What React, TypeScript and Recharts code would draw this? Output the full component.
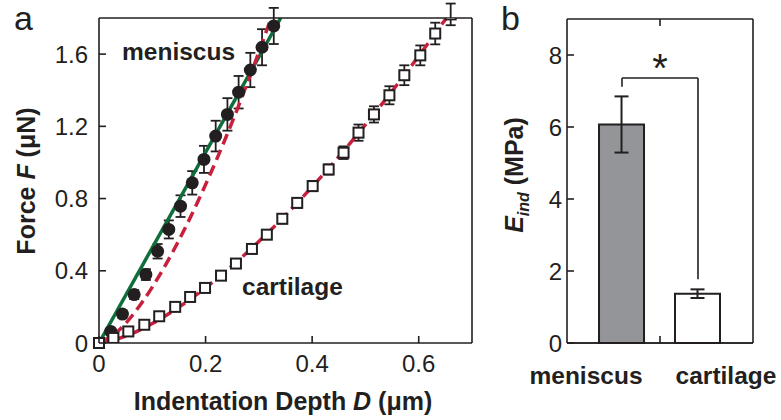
import React from 'react';
import {
  ComposedChart,
  Scatter,
  Line,
  Bar,
  Cell,
  XAxis,
  YAxis,
  ErrorBar,
  ReferenceLine,
} from 'recharts';

const FONT = '"Liberation Sans", Arial, Helvetica, sans-serif';
const INK = '#231f20';
const GREEN = '#0f6e3c';
const RED = '#c8203c';

// ---------- Panel a: force vs indentation depth ----------
const meniscusDepth = [0.022, 0.044, 0.066, 0.088, 0.110, 0.131, 0.153, 0.175, 0.197, 0.219, 0.241, 0.262, 0.284, 0.306, 0.328];
const meniscusForce = [0.064, 0.160, 0.268, 0.379, 0.508, 0.629, 0.758, 0.887, 1.017, 1.146, 1.266, 1.389, 1.512, 1.638, 1.756];
const meniscusForceErr = [0.015, 0.02, 0.025, 0.03, 0.04, 0.05, 0.06, 0.065, 0.075, 0.085, 0.09, 0.09, 0.095, 0.1, 0.1];

const cartilageDepth = [0.027, 0.055, 0.085, 0.113, 0.143, 0.171, 0.199, 0.229, 0.257, 0.287, 0.315, 0.344, 0.372, 0.401, 0.431, 0.459, 0.487, 0.516, 0.545, 0.573, 0.603, 0.631, 0.660];
const cartilageForce = [0.028, 0.064, 0.101, 0.148, 0.200, 0.255, 0.305, 0.373, 0.440, 0.521, 0.600, 0.688, 0.776, 0.869, 0.961, 1.054, 1.165, 1.266, 1.372, 1.483, 1.593, 1.714, 1.820];
const cartilageForceErr = [0.005, 0.008, 0.01, 0.012, 0.014, 0.016, 0.018, 0.02, 0.022, 0.024, 0.025, 0.026, 0.027, 0.028, 0.028, 0.035, 0.045, 0.045, 0.05, 0.055, 0.055, 0.06, 0.06];

const originDepth = [0];
const originForce = [0];

const linearFitDepth = [0, 0.341];
const linearFitForce = [0, 1.8];

const meniscusHertzDepth = [0, 0.04, 0.08, 0.12, 0.16, 0.20, 0.24, 0.28, 0.323];
const meniscusHertzForce = [0, 0.078, 0.222, 0.407, 0.627, 0.877, 1.152, 1.452, 1.8];

const cartilageHertzDepth = [0, 0.05, 0.10, 0.15, 0.20, 0.25, 0.30, 0.35, 0.40, 0.45, 0.50, 0.55, 0.60, 0.652];
const cartilageHertzForce = [0, 0.038, 0.108, 0.199, 0.306, 0.428, 0.562, 0.708, 0.865, 1.032, 1.209, 1.395, 1.589, 1.8];

const depthTicks = [0, 0.2, 0.4, 0.6];
const forceTicks = [0, 0.4, 0.8, 1.2, 1.6];
const depthDomain = [0, 0.7];
const forceDomain = [0, 1.8];

// ---------- Panel b: indentation modulus ----------
const tissues = ['meniscus', 'cartilage'];
const tissuePos = [1, 2];
const modulusMean = [6.07, 1.37];
const modulusErr = [0.78, 0.12];
const modulusTicks = [0, 2, 4, 6, 8];
const modulusDomain = [0, 9];
const tissueDomain = [0.276, 2.724];
const barFills = ['#939598', '#ffffff'];
const bracketTop = 7.36;
const bracketLeftEnd = 7.12;
const bracketRightEnd = 1.77;

const meniscusData = meniscusDepth.map((d, i) => ({ D: d, F: meniscusForce[i], err: meniscusForceErr[i] }));
const cartilageData = cartilageDepth.map((d, i) => ({ D: d, F: cartilageForce[i], err: cartilageForceErr[i] }));
const originData = originDepth.map((d, i) => ({ D: d, F: originForce[i] }));
const linearData = linearFitDepth.map((d, i) => ({ D: d, F: linearFitForce[i] }));
const menHertzData = meniscusHertzDepth.map((d, i) => ({ D: d, F: meniscusHertzForce[i] }));
const cartHertzData = cartilageHertzDepth.map((d, i) => ({ D: d, F: cartilageHertzForce[i] }));
const barData = tissues.map((t, i) => ({ name: t, pos: tissuePos[i], E: modulusMean[i], err: modulusErr[i] }));

// ---------- layout (pixels) ----------
const PANEL_B = { left: 490, width: 291, height: 420, mTop: 19, mRight: 27, mBottom: 37, mLeft: 16, yW: 61, xH: 40 };
const bPlotLeft = PANEL_B.left + PANEL_B.mLeft + PANEL_B.yW;
const bPlotRight = PANEL_B.left + PANEL_B.width - PANEL_B.mRight - 1;
const bPlotTop = PANEL_B.mTop;
const bPlotBottom = PANEL_B.height - PANEL_B.mBottom - PANEL_B.xH;
const bMidX = (bPlotLeft + bPlotRight) / 2;

const M = 10; // tick margin used for locating the axis from tick props
const TL = 7; // inward tick length
const AXIS = { stroke: INK, strokeWidth: 1.6 };

const fmtNum = (v: number) => (v === 0 ? '0' : String(v));

const LeftTick = (props: any) => {
  const { x, y, payload, gap, labels } = props;
  const ax = x + M;
  return (
    <g>
      <line x1={ax} x2={ax + TL} y1={y} y2={y} stroke={INK} strokeWidth={1.6} />
      {labels && (
        <text x={ax - gap} y={y} dy="0.36em" textAnchor="end" fontSize={24} fill={INK} fontFamily={FONT}>
          {fmtNum(payload.value)}
        </text>
      )}
    </g>
  );
};

const RightTick = (props: any) => {
  const { x, y } = props;
  const ax = x - M;
  return <line x1={ax} x2={ax - TL} y1={y} y2={y} stroke={INK} strokeWidth={1.6} />;
};

const TopTick = (props: any) => {
  const { x, y } = props;
  const ay = y + M;
  return <line x1={x} x2={x} y1={ay} y2={ay + TL} stroke={INK} strokeWidth={1.6} />;
};

const BottomTickA = (props: any) => {
  const { x, y, payload } = props;
  const ay = y - M;
  return (
    <g>
      <line x1={x} x2={x} y1={ay} y2={ay - TL} stroke={INK} strokeWidth={1.6} />
      <text x={x} y={ay + 29} textAnchor="middle" fontSize={24} fill={INK} fontFamily={FONT}>
        {fmtNum(payload.value)}
      </text>
    </g>
  );
};

const labelShift = [-36, 28];
const BottomTickB = (props: any) => {
  const { x, y, payload } = props;
  const ay = y - M;
  const idx = tissuePos.indexOf(payload.value);
  if (idx < 0) return <g />;
  return (
    <text x={x + labelShift[idx]} y={ay + 41} textAnchor="middle" fontSize={24.5} fontWeight="bold" fill={INK} fontFamily={FONT}>
      {tissues[idx]}
    </text>
  );
};

const CircleShape = (props: any) => {
  const { cx, cy } = props;
  return <circle cx={cx} cy={cy} r={6.5} fill={INK} />;
};

const SquareShape = (props: any) => {
  const { cx, cy } = props;
  return <rect x={cx - 5} y={cy - 5} width={10} height={10} fill="#ffffff" stroke={INK} strokeWidth={2} />;
};

const seg = (x1: number, y1: number, x2: number, y2: number) => [{ x: x1, y: y1 }, { x: x2, y: y2 }];

export default function App() {
  return (
    <div style={{ position: 'absolute', left: 0, top: 0, width: 781, height: 420, background: '#ffffff', fontFamily: FONT }}>
      <div style={{ position: 'absolute', left: 0, top: 0 }}>
        <ComposedChart width={490} height={420} margin={{ top: 17, right: 17, bottom: 37, left: 39 }}>
          <XAxis
            xAxisId="x"
            type="number"
            dataKey="D"
            domain={depthDomain}
            ticks={depthTicks}
            interval={0}
            orientation="bottom"
            height={40}
            tickSize={0}
            tickMargin={M}
            tickLine={false}
            axisLine={AXIS}
            tick={(p: any) => <BottomTickA {...p} />}
          />
          <XAxis
            xAxisId="xt"
            type="number"
            domain={depthDomain}
            ticks={depthTicks}
            interval={0}
            orientation="top"
            height={1}
            tickSize={0}
            tickMargin={M}
            tickLine={false}
            axisLine={AXIS}
            tick={(p: any) => <TopTick {...p} />}
          />
          <YAxis
            yAxisId="y"
            type="number"
            dataKey="F"
            domain={forceDomain}
            ticks={forceTicks}
            interval={0}
            allowDataOverflow
            width={60}
            tickSize={0}
            tickMargin={M}
            tickLine={false}
            axisLine={AXIS}
            tick={(p: any) => <LeftTick {...p} gap={11} labels />}
          />
          <YAxis
            yAxisId="yr"
            type="number"
            orientation="right"
            domain={forceDomain}
            ticks={forceTicks}
            interval={0}
            width={1}
            tickSize={0}
            tickMargin={M}
            tickLine={false}
            axisLine={AXIS}
            tick={(p: any) => <RightTick {...p} />}
          />
          <YAxis yAxisId="yfree" type="number" domain={forceDomain} hide />

          <Scatter
            name="meniscus"
            data={meniscusData}
            xAxisId="x"
            yAxisId="y"
            dataKey="F"
            shape={<CircleShape />}
            isAnimationActive={false}
          >
            <ErrorBar dataKey="err" direction="y" width={5} stroke={INK} strokeWidth={1.8} />
          </Scatter>
          <Scatter
            name="cartilage"
            data={cartilageData}
            xAxisId="x"
            yAxisId="y"
            dataKey="F"
            shape={<SquareShape />}
            isAnimationActive={false}
          >
            <ErrorBar dataKey="err" direction="y" width={5} stroke={INK} strokeWidth={1.8} />
          </Scatter>
          <Line
            data={linearData}
            xAxisId="x"
            yAxisId="y"
            dataKey="F"
            type="linear"
            stroke={GREEN}
            strokeWidth={3.5}
            dot={false}
            isAnimationActive={false}
          />
          <Line
            data={menHertzData}
            xAxisId="x"
            yAxisId="y"
            dataKey="F"
            type="monotone"
            stroke={RED}
            strokeWidth={3.5}
            strokeDasharray="11 6"
            dot={false}
            isAnimationActive={false}
          />
          <Line
            data={cartHertzData}
            xAxisId="x"
            yAxisId="y"
            dataKey="F"
            type="monotone"
            stroke={RED}
            strokeWidth={3.5}
            strokeDasharray="11 6"
            dot={false}
            isAnimationActive={false}
          />
          <Scatter
            name="origin"
            data={originData}
            xAxisId="x"
            yAxisId="yfree"
            dataKey="F"
            shape={<SquareShape />}
            isAnimationActive={false}
          />
        </ComposedChart>
      </div>

      <div style={{ position: 'absolute', left: PANEL_B.left, top: 0 }}>
        <ComposedChart
          width={PANEL_B.width}
          height={PANEL_B.height}
          data={barData}
          margin={{ top: PANEL_B.mTop, right: PANEL_B.mRight, bottom: PANEL_B.mBottom, left: PANEL_B.mLeft }}
        >
          <XAxis
            xAxisId="b"
            type="number"
            dataKey="pos"
            domain={tissueDomain}
            ticks={tissuePos}
            interval={0}
            height={PANEL_B.xH}
            tickSize={0}
            tickMargin={M}
            tickLine={false}
            axisLine={AXIS}
            tick={(p: any) => <BottomTickB {...p} />}
          />
          <YAxis
            yAxisId="e"
            type="number"
            domain={modulusDomain}
            ticks={modulusTicks}
            interval={0}
            width={PANEL_B.yW}
            tickSize={0}
            tickMargin={M}
            tickLine={false}
            axisLine={AXIS}
            tick={(p: any) => <LeftTick {...p} gap={5} labels />}
          />
          <YAxis
            yAxisId="er"
            type="number"
            orientation="right"
            domain={modulusDomain}
            ticks={modulusTicks}
            interval={0}
            width={1}
            tickSize={0}
            tickMargin={M}
            tickLine={false}
            axisLine={AXIS}
            tick={(p: any) => <RightTick {...p} />}
          />
          <Bar xAxisId="b" yAxisId="e" dataKey="E" barSize={45} stroke={INK} strokeWidth={2} isAnimationActive={false}>
            {barData.map((d, i) => (
              <Cell key={d.name} fill={barFills[i]} />
            ))}
            <ErrorBar dataKey="err" direction="y" width={7} stroke={INK} strokeWidth={2} />
          </Bar>
          {/* significance bracket */}
          <ReferenceLine xAxisId="b" yAxisId="e" segment={seg(tissuePos[0], bracketTop, tissuePos[1], bracketTop)} stroke={INK} strokeWidth={1.6} />
          <ReferenceLine xAxisId="b" yAxisId="e" segment={seg(tissuePos[0], bracketLeftEnd, tissuePos[0], bracketTop)} stroke={INK} strokeWidth={1.6} />
          <ReferenceLine xAxisId="b" yAxisId="e" segment={seg(tissuePos[1], bracketRightEnd, tissuePos[1], bracketTop)} stroke={INK} strokeWidth={1.6} />
        </ComposedChart>
      </div>

      <svg
        width={781}
        height={420}
        style={{ position: 'absolute', left: 0, top: 0, pointerEvents: 'none' }}
        fontFamily={FONT}
      >
        {/* panel b frame: top and bottom edges with centre ticks */}
        <line x1={bPlotLeft} x2={bPlotRight} y1={bPlotTop} y2={bPlotTop} stroke={INK} strokeWidth={1.6} />
        <line x1={bPlotLeft} x2={bPlotRight} y1={bPlotBottom} y2={bPlotBottom} stroke={INK} strokeWidth={1.6} />
        <line x1={bMidX} x2={bMidX} y1={bPlotTop} y2={bPlotTop + TL} stroke={INK} strokeWidth={1.6} />
        <line x1={bMidX} x2={bMidX} y1={bPlotBottom} y2={bPlotBottom - TL} stroke={INK} strokeWidth={1.6} />

        <text x={14} y={30} fontSize={34} fill={INK}>a</text>
        <text x={501} y={30} fontSize={34} fill={INK}>b</text>
        <text x={122} y={60} fontSize={24.5} fontWeight="bold" fill={INK}>meniscus</text>
        <text x={242} y={295} fontSize={24.5} fontWeight="bold" fill={INK}>cartilage</text>
        <text x={283} y={410} fontSize={25} fontWeight="bold" fill={INK} textAnchor="middle">
          Indentation Depth <tspan fontStyle="italic">D</tspan> (μm)
        </text>
        <text x={35} y={181} fontSize={25} fontWeight="bold" fill={INK} textAnchor="middle" transform="rotate(-90 35 181)">
          Force <tspan fontStyle="italic">F</tspan> (μN)
        </text>
        <text x={523} y={175} fontSize={25} fontWeight="bold" fill={INK} textAnchor="middle" transform="rotate(-90 523 175)">
          <tspan fontStyle="italic">E</tspan>
          <tspan fontStyle="italic" fontSize={16} dy={6}>ind</tspan>
          <tspan dy={-6}> (MPa)</tspan>
        </text>
        <text x={660} y={82} fontSize={40} fill={INK} textAnchor="middle">*</text>
      </svg>
    </div>
  );
}
